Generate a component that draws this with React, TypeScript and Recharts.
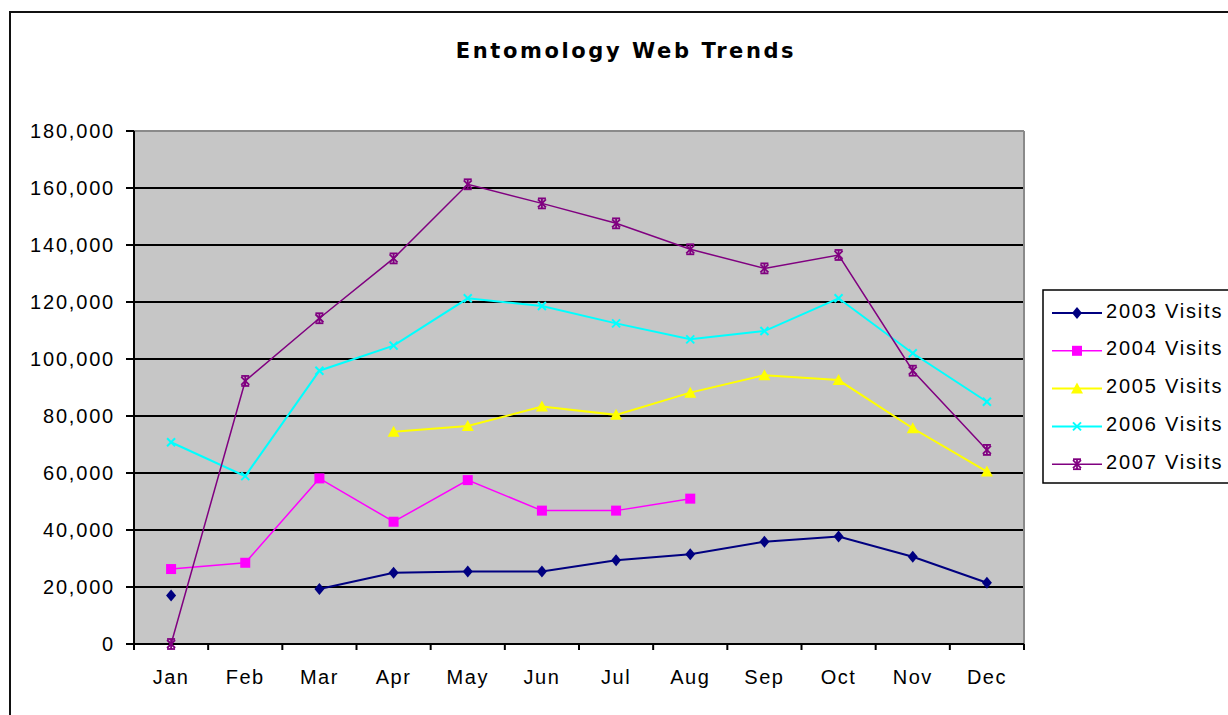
import React from "react";
import {
  LineChart,
  Line,
  XAxis,
  YAxis,
  CartesianGrid,
  ReferenceLine,
} from "recharts";

const MONTHS = ["Jan", "Feb", "Mar", "Apr", "May", "Jun", "Jul", "Aug", "Sep", "Oct", "Nov", "Dec"];

const VISITS_2003 = [17000, null, 19300, 25000, 25400, 25400, 29400, 31500, 35900, 37700, 30600, 21500];
const VISITS_2004 = [26300, 28500, 58100, 42900, 57500, 46800, 46800, 51000, null, null, null, null];
const VISITS_2005 = [null, null, null, 74500, 76500, 83300, 80400, 88200, 94300, 92600, 75700, 60500];
const VISITS_2006 = [70800, 58900, 95900, 104700, 121300, 118600, 112500, 106900, 109800, 121300, 102000, 85000];
const VISITS_2007 = [0, 92300, 114300, 135300, 161300, 154600, 147600, 138500, 131800, 136500, 95900, 68100];

const Y_TICKS = [0, 20000, 40000, 60000, 80000, 100000, 120000, 140000, 160000, 180000];
const X_BOUNDS = [0, 1, 2, 3, 4, 5, 6, 7, 8, 9, 10, 11, 12];

const SERIES = [
  { key: "v2003", name: "2003 Visits", color: "#000080", marker: "diamond", width: 2 },
  { key: "v2004", name: "2004 Visits", color: "#ff00ff", marker: "square", width: 1.5 },
  { key: "v2005", name: "2005 Visits", color: "#ffff00", marker: "triangle", width: 2 },
  { key: "v2006", name: "2006 Visits", color: "#00ffff", marker: "cross", width: 2 },
  { key: "v2007", name: "2007 Visits", color: "#800080", marker: "star", width: 1.5 },
];

const rows = MONTHS.map((month, i) => ({
  month,
  pos: i + 0.5,
  v2003: VISITS_2003[i],
  v2004: VISITS_2004[i],
  v2005: VISITS_2005[i],
  v2006: VISITS_2006[i],
  v2007: VISITS_2007[i],
}));

const FONT = '"Liberation Sans", Arial, sans-serif';
const TITLE_FONT = '"DejaVu Sans", Verdana, sans-serif';
const WIDTH = 1228;
const HEIGHT = 715;
const PLOT_LEFT = 134;
const PLOT_RIGHT = 1024;
const BAND = (PLOT_RIGHT - PLOT_LEFT) / MONTHS.length;

function Marker({ kind, color, cx, cy }: { kind: string; color: string; cx: number; cy: number }) {
  switch (kind) {
    case "diamond":
      return <polygon points={`${cx},${cy - 6} ${cx + 5},${cy} ${cx},${cy + 6} ${cx - 5},${cy}`} fill={color} />;
    case "square":
      return <rect x={cx - 5} y={cy - 5} width={10} height={10} fill={color} />;
    case "triangle":
      return <polygon points={`${cx},${cy - 6} ${cx + 6},${cy + 5} ${cx - 6},${cy + 5}`} fill={color} />;
    case "cross":
      return (
        <g stroke={color} strokeWidth={2}>
          <line x1={cx - 4} y1={cy - 4} x2={cx + 4} y2={cy + 4} />
          <line x1={cx - 4} y1={cy + 4} x2={cx + 4} y2={cy - 4} />
        </g>
      );
    default:
      return (
        <g stroke={color} strokeWidth={1.8}>
          <line x1={cx - 4} y1={cy - 4} x2={cx + 4} y2={cy + 4} />
          <line x1={cx - 4} y1={cy + 4} x2={cx + 4} y2={cy - 4} />
          <line x1={cx} y1={cy - 5} x2={cx} y2={cy + 5} />
          <line x1={cx - 4} y1={cy - 5} x2={cx + 4} y2={cy - 5} />
          <line x1={cx - 4} y1={cy + 5} x2={cx + 4} y2={cy + 5} />
        </g>
      );
  }
}

// month names sit in the middle of each band, tick marks stay on the band edges
function MonthTick(props: any) {
  const { x, y, payload } = props;
  const label = MONTHS[payload.value];
  if (!label) return <g />;
  return (
    <text
      x={x + BAND / 2}
      y={y}
      dy="0.71em"
      textAnchor="middle"
      fill="#000"
      fontSize={20}
      fontFamily={FONT}
      letterSpacing={1.5}
    >
      {label}
    </text>
  );
}

function LegendBox() {
  return (
    <svg
      width={200}
      height={200}
      style={{ position: "absolute", left: 1043, top: 290, overflow: "visible" }}
    >
      <rect x={0} y={0} width={220} height={193} fill="#fff" stroke="#000" strokeWidth={1.5} />
      {SERIES.map((s, i) => {
        const cy = 23 + i * 37.8;
        return (
          <g key={s.key}>
            <line x1={9} y1={cy} x2={59} y2={cy} stroke={s.color} strokeWidth={s.width} />
            <Marker kind={s.marker} color={s.color} cx={34} cy={cy} />
            <text
              x={63}
              y={cy + 4.5}
              fontSize={20}
              fontFamily={FONT}
              letterSpacing={1.8}
              fill="#000"
            >
              {s.name}
            </text>
          </g>
        );
      })}
    </svg>
  );
}

export default function App() {
  return (
    <div
      style={{
        position: "absolute",
        left: 0,
        top: 0,
        width: WIDTH,
        height: HEIGHT,
        overflow: "hidden",
        background: "#fff",
        fontFamily: FONT,
      }}
    >
      <div
        style={{
          position: "absolute",
          left: 9,
          top: 11,
          width: WIDTH + 20,
          height: HEIGHT + 20,
          border: "2px solid #111",
        }}
      />
      <div
        style={{
          position: "absolute",
          left: 0,
          top: 39,
          width: 1252,
          textAlign: "center",
          fontSize: 21,
          fontWeight: "bold",
          fontFamily: TITLE_FONT,
          letterSpacing: 2.6,
          color: "#000",
        }}
      >
        Entomology Web Trends
      </div>
      <div style={{ position: "absolute", left: 0, top: 0 }}>
        <LineChart
          width={WIDTH}
          height={HEIGHT}
          data={rows}
          margin={{ top: 131, right: WIDTH - PLOT_RIGHT, bottom: 0, left: 0 }}
        >
          <CartesianGrid
            vertical={false}
            stroke="#000"
            strokeWidth={2}
            fill="#c6c6c6"
            fillOpacity={1}
          />
          <XAxis
            dataKey="pos"
            type="number"
            domain={[0, 12]}
            ticks={X_BOUNDS}
            interval={0}
            height={71}
            tickSize={6}
            tickMargin={20}
            stroke="#000"
            strokeWidth={2}
            tick={<MonthTick />}
          />
          <YAxis
            type="number"
            domain={[0, 180000]}
            ticks={Y_TICKS}
            interval={0}
            width={PLOT_LEFT}
            tickSize={8}
            tickMargin={11}
            stroke="#000"
            strokeWidth={2}
            tick={{ fill: "#000", fontSize: 20, fontFamily: FONT, letterSpacing: 1.8 }}
            tickFormatter={(v: number) => v.toLocaleString("en-US")}
          />
          <ReferenceLine y={180000} stroke="#8a8a8a" strokeWidth={2} />
          <ReferenceLine x={12} stroke="#8a8a8a" strokeWidth={2} />
          {SERIES.map((s) => (
            <Line
              key={s.key}
              dataKey={s.key}
              name={s.name}
              stroke={s.color}
              strokeWidth={s.width}
              isAnimationActive={false}
              activeDot={false}
              dot={(p: any) =>
                p.cx == null || p.cy == null || p.value == null ? (
                  <g key={`${s.key}-${p.index}`} />
                ) : (
                  <g key={`${s.key}-${p.index}`}>
                    <Marker kind={s.marker} color={s.color} cx={p.cx} cy={p.cy} />
                  </g>
                )
              }
            />
          ))}
        </LineChart>
      </div>
      <LegendBox />
    </div>
  );
}
